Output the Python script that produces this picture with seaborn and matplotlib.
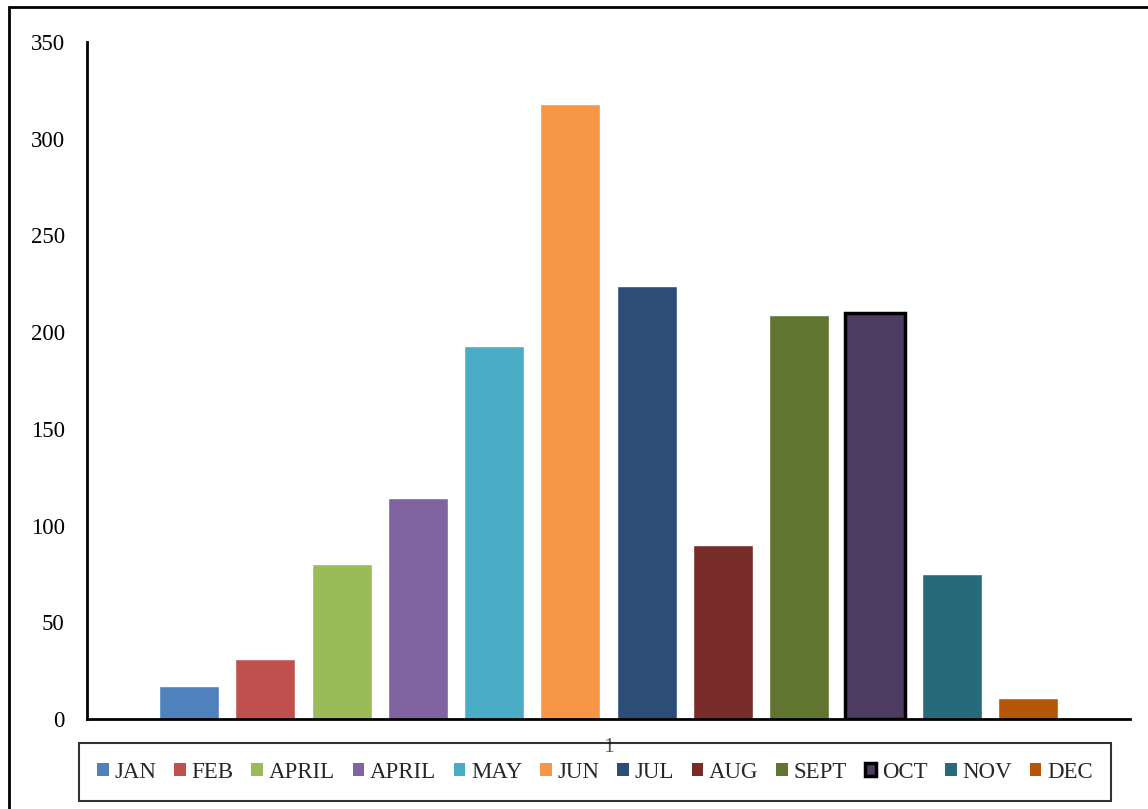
import matplotlib
matplotlib.use("Agg")
import matplotlib.pyplot as plt
from matplotlib.patches import Patch, Rectangle
import seaborn as sns
import pandas as pd

# Monthly totals, one bar per month in a single category
months = ["JAN", "FEB", "APRIL", "APRIL", "MAY", "JUN",
          "JUL", "AUG", "SEPT", "OCT", "NOV", "DEC"]
values = [17, 31, 80, 114, 193, 318, 224, 90, 209, 210, 75, 11]
colors = ["#4F81BD", "#C0504D", "#9BBB59", "#8064A2", "#4BACC6", "#F79646",
          "#2C4D75", "#772C2A", "#5F7530", "#4D3B62", "#276A7C", "#B65708"]
category = "1"
y_ticks = [0, 50, 100, 150, 200, 250, 300, 350]

sns.set_style("white")
plt.rcParams["font.family"] = ["Liberation Serif", "DejaVu Serif"]

W, H = 1148, 809
fig = plt.figure(figsize=(W / 100, H / 100), dpi=100)
ax = fig.add_axes([87 / W, 1 - 719 / H, (1130 - 87) / W, (719 - 42) / H])

keys = [f"{i:02d}" for i in range(len(months))]
df = pd.DataFrame({"group": [category] * len(months), "key": keys, "value": values})

sns.barplot(data=df, x="group", y="value", hue="key", hue_order=keys,
            palette=colors, saturation=1, width=0.877, gap=0.213,
            legend=False, ax=ax)

# October bar carries a black outline
oct_idx = months.index("OCT")
ax.patches[oct_idx].set_edgecolor("black")
ax.patches[oct_idx].set_linewidth(2.5)

ax.set_xlim(-0.5, 0.5)
ax.set_ylim(0, 350)
ax.set_yticks(y_ticks)
ax.set_xlabel("")
ax.set_ylabel("")
ax.tick_params(axis="y", length=0, pad=16, labelsize=16.5, labelcolor="black")
ax.tick_params(axis="x", length=0, pad=14, labelsize=16, labelcolor="#595959")

for side in ("top", "right"):
    ax.spines[side].set_visible(False)
for side in ("left", "bottom"):
    ax.spines[side].set_color("black")
    ax.spines[side].set_linewidth(2)

# Legend along the bottom
handles = []
for m, c in zip(months, colors):
    if m == "OCT":
        handles.append(Patch(facecolor=c, edgecolor="black", linewidth=2.5, label=m))
    else:
        handles.append(Patch(facecolor=c, edgecolor="none", label=m))
leg = fig.legend(handles=handles, loc="center", bbox_to_anchor=(595 / W, 1 - 772 / H),
                 ncol=len(months), fontsize=16.5, frameon=True, fancybox=False,
                 handlelength=0.5, handleheight=0.5, handletextpad=0.25,
                 columnspacing=0.78, borderpad=0.8)
frame = leg.get_frame()
frame.set_edgecolor("black")
frame.set_linewidth(1.5)
frame.set_facecolor("none")

# Outer chart border
fig.patches.append(Rectangle((9 / W, -0.1), 1.2, 1 - 7 / H + 0.1,
                             transform=fig.transFigure, fill=False,
                             edgecolor="black", linewidth=2, zorder=10))

fig.savefig("out.png", dpi=100)
